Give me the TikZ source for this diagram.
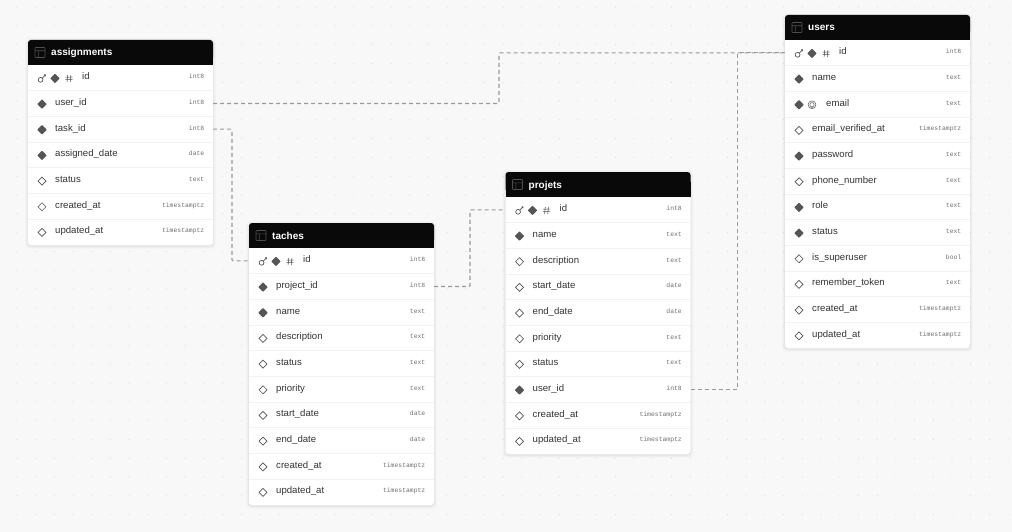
\documentclass[tikz,border=0pt]{standalone}
\usepackage{fontspec}
\setmainfont{Liberation Sans}
\newfontfamily\typefont{Liberation Mono}
\definecolor{bgc}{HTML}{F8F8F8}
\definecolor{dotc}{HTML}{DDDDDD}
\definecolor{headc}{HTML}{090909}
\definecolor{inkc}{HTML}{333333}
\definecolor{typec}{HTML}{707070}
\definecolor{sepc}{HTML}{F2F2F2}
\definecolor{linkc}{HTML}{999999}
\definecolor{iconc}{HTML}{555555}
\tikzset{
 x=1pt,y=-1pt,
 rowbox/.style={minimum width=185pt,minimum height=25.67pt,inner sep=0pt,outer sep=0pt,anchor=north west},
 headbox/.style={minimum width=185pt,minimum height=25pt,inner sep=0pt,outer sep=0pt,anchor=north west},
 titlelabel/.style={text=white,font=\fontsize{10}{12}\selectfont\bfseries,anchor=base west,inner sep=0pt},
 fieldlabel/.style={text=inkc,font=\fontsize{9.6}{11}\selectfont,anchor=base west,inner sep=0pt},
 typelabel/.style={text=typec,font=\fontsize{6.4}{8}\selectfont\typefont,anchor=base east,inner sep=0pt},
 link/.style={draw=linkc,line width=1.1pt,dash pattern=on 4pt off 3pt,rounded corners=1pt},
 iconline/.style={draw=iconc,line width=.7pt},
}
\newcommand{\fulld}[2]{\fill[iconc,rounded corners=.6pt] (#1-4.8,#2) -- (#1,#2-4.8) -- (#1+4.8,#2) -- (#1,#2+4.8) -- cycle;}
\newcommand{\emptyd}[2]{\draw[iconline,fill=white] (#1-4,#2) -- (#1,#2-4) -- (#1+4,#2) -- (#1,#2+4) -- cycle;}
\newcommand{\keyi}[2]{\draw[iconline] (#1-1.4,#2+1.4) circle (2.4) (#1+.2,#2-.2) -- (#1+3.6,#2-3.6) (#1+2.2,#2-3.6) -- (#1+3.6,#2-3.6) -- (#1+3.6,#2-2.2);}
\newcommand{\hashi}[2]{\draw[iconline,line width=.55pt] (#1-1.2,#2-3.6) -- (#1-1.9,#2+3.6) (#1+1.9,#2-3.6) -- (#1+1.2,#2+3.6) (#1-3.6,#2-1.3) -- (#1+3.6,#2-1.3) (#1-3.6,#2+1.3) -- (#1+3.6,#2+1.3);}
\newcommand{\uniquei}[2]{\draw[iconline,line width=.5pt] (#1,#2) circle (3.9) (#1,#2) circle (2.2) (#1-3,#2+3.2) -- (#1+3,#2+3.2);}
\newcommand{\tablei}[2]{\draw[draw=white!28!headc,line width=.6pt,rounded corners=.8pt] (#1,#2) rectangle +(10,10) (#1,#2+3.3) -- +(10,0) (#1+3.3,#2+3.3) -- +(0,6.7);}
\newcommand{\dbtable}[5]{%
 \foreach \sh/\op in {3/.012,2.2/.016,1.5/.02,.8/.025}{
  \fill[black,opacity=\op,rounded corners=4pt] (#2-\sh,#3+1-\sh) rectangle ++(185+2*\sh,\tabh+2*\sh);
 }
 \path[fill=white,rounded corners=3pt] (#2,#3+20) rectangle ++(185,\tabh-20);
 \path[fill=headc,rounded corners=3pt] (#2,#3) rectangle ++(185,20);
 \fill[headc] (#2,#3+10) rectangle ++(185,15);
 \node[headbox] (#1-head) at (#2,#3) {};
 \tablei{#2+7}{#3+7.5}
 \node[titlelabel] (#1-title) at (#2+23,#3+16) {#4};
 \foreach \i/\k/\lab/\ty in {#5}{
  \pgfmathsetmacro{\ry}{#3+25+(\i-1)*25.67}
  \pgfmathsetmacro{\cy}{\ry+13.4}
  \node[rowbox] (#1-\i) at (#2,\ry) {};
  \ifnum\i>1 \draw[sepc,line width=.6pt] (#2,\ry) -- ++(185,0);\fi
  \ifnum\k=0
    \keyi{#2+14}{\cy}\fulld{#2+27}{\cy}\hashi{#2+41}{\cy}
    \node[fieldlabel] at (#2+54,\cy+1.3) {\lab};
  \fi
  \ifnum\k=1 \fulld{#2+14}{\cy}\node[fieldlabel] at (#2+27,\cy+1.3) {\lab};\fi
  \ifnum\k=2 \emptyd{#2+14}{\cy}\node[fieldlabel] at (#2+27,\cy+1.3) {\lab};\fi
  \ifnum\k=3 \fulld{#2+14}{\cy}\uniquei{#2+27}{\cy}\node[fieldlabel] at (#2+41,\cy+1.3) {\lab};\fi
  \node[typelabel] at (#2+176.5,\cy+.3) {\ty};
 }
}
\begin{document}
\begin{tikzpicture}
\useasboundingbox (0,0) rectangle (1012,532);
\fill[bgc] (0,0) rectangle (1012,532);
\foreach \px in {17,35.7,...,1012}{\foreach \py in {7,25.8,...,532}{\fill[dotc] (\px,\py) circle (.6);}}
\def\tabh{205}
\dbtable{assignments}{28}{40}{assignments}{1/0/id/int8,2/1/user\_id/int8,3/1/task\_id/int8,4/1/assigned\_date/date,5/2/status/text,6/2/created\_at/timestamptz,7/2/updated\_at/timestamptz}
\def\tabh{333}
\dbtable{users}{785}{15}{users}{1/0/id/int8,2/1/name/text,3/3/email/text,4/2/email\_verified\_at/timestamptz,5/1/password/text,6/2/phone\_number/text,7/1/role/text,8/1/status/text,9/2/is\_superuser/bool,10/2/remember\_token/text,11/2/created\_at/timestamptz,12/2/updated\_at/timestamptz}
\def\tabh{282}
\dbtable{taches}{249}{223}{taches}{1/0/id/int8,2/1/project\_id/int8,3/1/name/text,4/2/description/text,5/2/status/text,6/2/priority/text,7/2/start\_date/date,8/2/end\_date/date,9/2/created\_at/timestamptz,10/2/updated\_at/timestamptz}
\dbtable{projets}{505.5}{172}{projets}{1/0/id/int8,2/1/name/text,3/2/description/text,4/2/start\_date/date,5/2/end\_date/date,6/2/priority/text,7/2/status/text,8/1/user\_id/int8,9/2/created\_at/timestamptz,10/2/updated\_at/timestamptz}
\draw[link] (assignments-2.east) -- ++(286,0) |- (users-1.west);
\draw[link] (assignments-3.east) -- ++(19,0) |- (taches-1.west);
\draw[link] (taches-2.east) -- ++(36,0) |- (projets-1.west);
\draw[link] (projets-8.east) -- ++(47,0) |- (users-1.west);
\end{tikzpicture}
\end{document}
